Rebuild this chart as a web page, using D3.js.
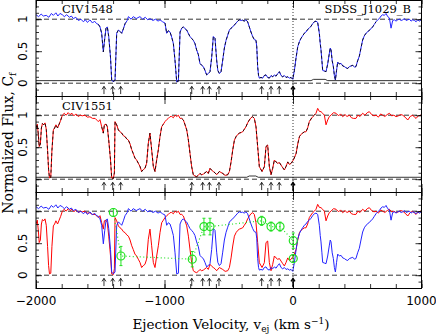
<!DOCTYPE html>
<html>
<head>
<meta charset="utf-8">
<script src="https://cdn.jsdelivr.net/npm/d3@7"></script>
<style>
  body { margin: 0; background: #fff; }
  svg text { fill: #000; }
</style>
</head>
<body>
<div id="chart"></div>
<script>
// CIV 1548 normalized flux (blue), velocity in km/s
var blueV = [-2000,-1980,-1960,-1943,-1920,-1900,-1880,-1865,-1845,-1830,-1813,-1795,-1780,-1761,-1740,-1725,-1709,-1690,-1670,-1650,
  -1632,-1615,-1600,-1580,-1560,-1545,-1528,-1515,-1502,-1489,-1476,-1465,-1455,-1445,-1434,-1420,-1411,-1398,-1385,-1372,
  -1359,-1346,-1333,-1320,-1307,-1290,-1281,-1260,-1243,-1220,-1191,-1170,-1150,-1130,-1113,-1090,-1070,-1050,-1035,-1015,
  -996,-983,-970,-957,-944,-931,-918,-905,-892,-879,-866,-853,-840,-827,-815,-802,-789,-776,-763,-750,
  -737,-724,-711,-698,-685,-672,-659,-646,-633,-620,-607,-594,-585,-573,-560,-547,-534,-521,-508,-495,
  -482,-469,-456,-443,-430,-417,-404,-392,-380,-366,-353,-340,-327,-314,-301,-288,-282,-275,-268,-262,
  -249,-236,-223,-210,-197,-184,-171,-158,-145,-132,-119,-106,-93,-80,-67,-54,-41,-28,-15,-2,
  11,24,37,50,62,75,88,101,114,127,140,153,166,179,192,205,212,218,225,231,
  244,257,270,283,290,296,305,314,322,330,339,348,361,374,387,400,413,426,439,452,
  465,478,490,503,516,529,542,555,568,581,594,607,620,633,646,659,672,685,698,711,
  724,737,750,763,776,789,802,815,828,841,854,867,880,893,906,919,932,945,958,971,984,996];
var blueF = [1.07,1.04,1.08,1.05,1.06,1.03,1.09,1.06,1.10,1.05,1.09,1.07,1.04,1.07,1.03,1.05,1.01,1.03,0.98,1.00,
  0.96,0.99,0.95,0.99,0.94,0.97,0.93,0.92,0.88,0.78,0.49,0.70,0.86,0.88,0.73,0.40,0.05,0.02,0.05,0.78,
  0.83,0.81,0.78,0.85,0.93,0.98,1.04,1.00,1.04,1.01,1.04,1.00,1.03,0.99,1.01,0.98,1.00,0.97,0.99,0.96,
  0.94,0.78,0.82,0.80,0.72,0.62,0.35,0.02,0.03,0.80,0.86,0.88,0.85,0.83,0.78,0.73,0.70,0.67,0.62,0.52,
  0.45,0.31,0.28,0.26,0.20,0.13,0.15,0.18,0.40,0.73,0.70,0.36,0.20,0.15,0.18,0.36,0.55,0.67,0.75,0.83,
  0.86,0.88,0.91,0.94,0.97,0.99,0.98,0.985,0.97,0.99,0.96,0.88,0.80,0.73,0.68,0.67,0.57,0.26,0.12,0.08,
  0.09,0.08,0.12,0.13,0.09,0.08,0.12,0.10,0.13,0.11,0.15,0.18,0.12,0.10,0.12,0.09,0.10,0.08,0.09,0.06,
  0.20,0.40,0.57,0.65,0.70,0.74,0.78,0.80,0.84,0.86,0.89,0.93,0.96,0.97,0.95,0.78,0.62,0.52,0.35,0.20,
  0.19,0.18,0.30,0.47,0.55,0.52,0.35,0.26,0.12,0.05,0.20,0.33,0.30,0.31,0.27,0.26,0.24,0.23,0.26,0.27,
  0.28,0.25,0.26,0.35,0.42,0.55,0.675,0.74,0.78,0.80,0.83,0.85,0.88,0.92,0.96,0.99,1.01,1.05,1.07,1.06,
  1.09,1.04,1.02,0.86,0.98,0.99,0.97,0.99,1.00,0.98,0.99,1.01,0.98,0.99,1.00,0.97,0.99,0.98,0.96,0.99,0.97,0.99];

// CIV 1551 normalized flux (red)
var redV = [-2000,-1990,-1982,-1975,-1966,-1958,-1950,-1940,-1930,-1920,-1910,-1902,-1895,-1885,-1876,-1865,-1855,-1845,-1832,-1820,
  -1808,-1795,-1780,-1765,-1750,-1735,-1720,-1705,-1690,-1672,-1655,-1640,-1620,-1600,-1580,-1560,-1540,-1525,-1515,-1502,
  -1489,-1476,-1468,-1455,-1445,-1434,-1420,-1411,-1398,-1390,-1385,-1372,-1359,-1346,-1333,-1320,-1307,-1294,-1281,-1268,
  -1255,-1243,-1230,-1217,-1204,-1191,-1178,-1165,-1152,-1139,-1126,-1113,-1100,-1087,-1074,-1061,-1048,-1035,-1022,-1009,
  -996,-983,-970,-957,-944,-931,-918,-905,-892,-879,-866,-853,-840,-827,-814,-802,-789,-776,-763,-750,
  -737,-724,-711,-698,-685,-672,-659,-646,-633,-620,-607,-594,-573,-547,-528,-508,-495,-482,-469,-456,
  -443,-430,-417,-404,-392,-379,-366,-353,-340,-327,-314,-301,-288,-275,-262,-241,-223,-210,-197,-184,
  -171,-158,-145,-132,-119,-106,-93,-80,-67,-54,-41,-28,-15,3,24,37,50,62,75,88,
  101,114,127,140,153,166,179,192,205,218,231,244,257,270,283,296,315,335,355,370,
  387,405,420,439,455,470,490,505,522,542,560,578,594,612,630,646,665,682,698,715,
  733,750,768,785,802,820,838,854,872,893,912,932,945,958,975,996];
var redF = [0.80,0.86,0.70,0.51,0.55,0.80,0.87,0.85,0.88,0.78,0.45,0.15,0.02,0.03,0.45,0.77,0.80,0.85,0.80,0.86,
  0.92,1.00,1.03,1.00,1.04,1.01,1.03,0.99,1.02,0.98,1.00,0.99,1.00,0.97,0.975,0.95,0.95,0.92,0.90,0.93,
  0.82,0.72,0.85,0.86,0.82,0.61,0.30,0.02,0.01,0.10,0.90,0.85,0.77,0.74,0.72,0.68,0.665,0.63,0.61,0.55,
  0.46,0.40,0.33,0.30,0.25,0.20,0.12,0.15,0.17,0.25,0.56,0.72,0.46,0.20,0.12,0.30,0.46,0.665,0.82,0.86,
  0.90,0.93,0.95,0.977,0.98,0.96,1.00,0.98,1.00,0.95,0.95,0.925,0.85,0.77,0.61,0.41,0.20,0.07,0.05,0.04,
  0.06,0.09,0.07,0.08,0.10,0.12,0.09,0.17,0.14,0.12,0.10,0.07,0.12,0.09,0.06,0.07,0.12,0.27,0.456,0.61,
  0.665,0.70,0.72,0.73,0.74,0.78,0.82,0.88,0.925,0.96,0.977,0.95,0.82,0.51,0.196,0.12,0.196,0.51,0.534,0.196,
  0.07,0.17,0.30,0.27,0.248,0.26,0.22,0.18,0.144,0.20,0.27,0.23,0.248,0.30,0.40,0.55,0.665,0.70,0.72,0.74,
  0.74,0.80,0.90,0.94,0.977,1.00,1.03,1.107,1.06,1.055,1.03,1.00,0.85,0.925,0.98,1.00,1.04,1.03,0.99,1.02,
  0.977,1.01,0.98,1.00,0.96,0.95,0.95,1.00,0.98,1.03,1.00,1.04,1.055,1.01,0.99,1.00,0.97,1.02,1.00,0.98,
  1.01,1.03,0.99,1.00,0.977,0.99,1.01,1.00,0.97,0.925,0.98,1.00,0.97,0.95,0.99,1.00];

// flux error level (solid black near zero)
var err1548V = [-2000, 140, 160, 250, 270, 1000];
var err1548F = [0.04, 0.04, 0.06, 0.06, 0.04, 0.04];
var err1551V = [-2000, -360, -340, -290, -270, 1000];
var err1551F = [0.03, 0.03, 0.05, 0.05, 0.03, 0.03];

// velocity ranges where the black dashed fit is drawn
var fitBlue = [[-1520, -1285], [-1000, 650]];
var fitRed = [[-2000, -1790], [-1500, -1000], [-870, 185]];

// component positions (arrows)
var arrowV = [-1471, -1403, -1341, -788, -703, -651, -576, -244, -171, -107, 0];

// covering fractions (green)
var cfV = [-1398, -1339, -784, -693, -646, -244, -171, -101, 2, 2];
var cfF = [0.98, 0.30, 0.25, 0.76, 0.76, 0.85, 0.76, 0.76, 0.54, 0.26];
var cfErr = [0.06, 0.15, 0.12, 0.13, 0.13, 0.07, 0.07, 0.07, 0.12, 0.06];

var xTickLabels = [-2000, -1000, 0, 1000];
var yTickLabels = [0, 0.5, 1];
var panelNames = ["CIV1548", "CIV1551", ""];

var W = 436, H = 336;
var plotLeft = 36, plotRight = 421.5, ph = 96;
var svg = d3.select("#chart").append("svg").attr("width", W).attr("height", H);

var x = d3.scaleLinear().domain([-2000, 1000]).range([plotLeft, plotRight]);
var minorX = d3.range(-2000, 1001, 200);
var minorY = d3.range(-2, 14).map(function(d) { return d / 10; });

var blue = blueV.map(function(v, i) { return [v, blueF[i]]; });
var red = redV.map(function(v, i) { return [v, redF[i]]; });

function inRanges(v, ranges) {
  return ranges.some(function(r) { return v >= r[0] && v <= r[1]; });
}

function drawPanel(p) {
  var pTop = p * ph;
  var y = d3.scaleLinear().domain([-0.2, 1.3]).range([pTop + ph, pTop]);
  var g = svg.append("g");

  svg.append("clipPath").attr("id", "clip" + p)
    .append("rect").attr("x", plotLeft).attr("y", pTop).attr("width", plotRight - plotLeft).attr("height", ph);
  var body = g.append("g").attr("clip-path", "url(#clip" + p + ")");

  // reference levels
  [0, 1].forEach(function(lv) {
    body.append("line")
      .attr("x1", plotLeft).attr("x2", plotRight).attr("y1", y(lv)).attr("y2", y(lv))
      .attr("stroke", "#000").attr("stroke-width", 0.8).attr("stroke-dasharray", "5,3");
  });

  var line = d3.line().x(function(d) { return x(d[0]); }).y(function(d) { return y(d[1]); });

  if (p < 2) {
    var ev = p == 0 ? err1548V : err1551V, ef = p == 0 ? err1548F : err1551F;
    body.append("path")
      .attr("d", line(ev.map(function(v, i) { return [v, ef[i]]; })))
      .attr("fill", "none").attr("stroke", "#000").attr("stroke-width", 0.8);
  }

  if (p == 2) {
    body.append("path").attr("d", line(red))
      .attr("fill", "none").attr("stroke", "#ff0000").attr("stroke-width", 1);
  }
  if (p == 0 || p == 2) {
    body.append("path").attr("d", line(blue))
      .attr("fill", "none").attr("stroke", "#2424ff").attr("stroke-width", 1);
  }
  if (p == 1) {
    body.append("path").attr("d", line(red))
      .attr("fill", "none").attr("stroke", "#ff0000").attr("stroke-width", 1);
  }

  // black dashed fit over the troughs
  if (p < 2) {
    var spec = p == 0 ? blue : red, rng = p == 0 ? fitBlue : fitRed;
    var fit = d3.line().defined(function(d) { return inRanges(d[0], rng); })
      .x(function(d) { return x(d[0]); }).y(function(d) { return y(d[1]); });
    body.append("path").attr("d", fit(spec))
      .attr("fill", "none").attr("stroke", "#000").attr("stroke-width", 0.8)
      .attr("stroke-dasharray", "3,2.5");
  }

  // covering fraction points
  if (p == 2) {
    var cf = cfV.map(function(v, i) { return [v, cfF[i], cfErr[i]]; });
    body.append("path").attr("d", line(cf))
      .attr("fill", "none").attr("stroke", "#22e022").attr("stroke-width", 1.2)
      .attr("stroke-dasharray", "1,2.5");
    var pts = body.selectAll(".cf").data(cf).enter().append("g");
    pts.append("line")
      .attr("x1", function(d) { return x(d[0]); }).attr("x2", function(d) { return x(d[0]); })
      .attr("y1", function(d) { return y(d[1] - d[2]); }).attr("y2", function(d) { return y(d[1] + d[2]); })
      .attr("stroke", "#22e022").attr("stroke-width", 1);
    [-1, 1].forEach(function(s) {
      pts.append("line")
        .attr("x1", function(d) { return x(d[0]) - 1.5; }).attr("x2", function(d) { return x(d[0]) + 1.5; })
        .attr("y1", function(d) { return y(d[1] + s * d[2]); }).attr("y2", function(d) { return y(d[1] + s * d[2]); })
        .attr("stroke", "#22e022").attr("stroke-width", 1);
    });
    pts.append("circle")
      .attr("cx", function(d) { return x(d[0]); }).attr("cy", function(d) { return y(d[1]); })
      .attr("r", 4).attr("fill", "none").attr("stroke", "#22e022").attr("stroke-width", 1.2);
  }

  // component arrows
  arrowV.forEach(function(v) {
    var bold = v == 0;
    var ax = x(v), y0 = y(bold ? -0.19 : -0.17), y1 = y(-0.05);
    g.append("line").attr("x1", ax).attr("x2", ax).attr("y1", y0).attr("y2", y1)
      .attr("stroke", "#000").attr("stroke-width", bold ? 1.4 : 0.8);
    g.append("path")
      .attr("d", "M" + (ax - 2) + "," + (y1 + 3) + "L" + ax + "," + y1 + "L" + (ax + 2) + "," + (y1 + 3))
      .attr("fill", "none").attr("stroke", "#000").attr("stroke-width", bold ? 1.4 : 0.8);
  });

  // axes with inward ticks
  var axisStyle = function(sel) {
    sel.select(".domain").remove();
    sel.selectAll("line").attr("stroke", "#000").attr("stroke-width", 0.8);
  };
  g.append("g").attr("transform", "translate(0," + (pTop + ph) + ")")
    .call(d3.axisBottom(x).tickValues(minorX).tickSize(-4).tickFormat("")).call(axisStyle);
  g.append("g").attr("transform", "translate(0," + (pTop + ph) + ")")
    .call(d3.axisBottom(x).tickValues(xTickLabels).tickSize(-8).tickFormat("")).call(axisStyle);
  g.append("g").attr("transform", "translate(0," + pTop + ")")
    .call(d3.axisTop(x).tickValues(minorX).tickSize(-4).tickFormat("")).call(axisStyle);
  g.append("g").attr("transform", "translate(0," + pTop + ")")
    .call(d3.axisTop(x).tickValues(xTickLabels).tickSize(-8).tickFormat("")).call(axisStyle);
  g.append("g").attr("transform", "translate(" + plotLeft + ",0)")
    .call(d3.axisLeft(y).tickValues(minorY).tickSize(-3).tickFormat("")).call(axisStyle);
  g.append("g").attr("transform", "translate(" + plotLeft + ",0)")
    .call(d3.axisLeft(y).tickValues(yTickLabels).tickSize(-6).tickFormat("")).call(axisStyle);
  g.append("g").attr("transform", "translate(" + plotRight + ",0)")
    .call(d3.axisRight(y).tickValues(minorY).tickSize(-3).tickFormat("")).call(axisStyle);
  g.append("g").attr("transform", "translate(" + plotRight + ",0)")
    .call(d3.axisRight(y).tickValues(yTickLabels).tickSize(-6).tickFormat("")).call(axisStyle);

  // rotated y tick labels
  yTickLabels.forEach(function(t) {
    g.append("text")
      .attr("transform", "translate(27," + y(t) + ") rotate(-90)")
      .attr("text-anchor", "middle")
      .style("font-family", "DejaVu Sans").style("font-size", "12px")
      .text(t);
  });

  g.append("rect").attr("x", plotLeft).attr("y", pTop + 0.5).attr("width", plotRight - plotLeft).attr("height", ph)
    .attr("fill", "none").attr("stroke", "#000").attr("stroke-width", 1);

  if (panelNames[p]) {
    g.append("text").attr("x", 62).attr("y", pTop + (p == 0 ? 12.5 : 13.5))
      .style("font-family", "DejaVu Serif").style("font-size", "11.5px")
      .text(panelNames[p]);
  }
}

for (var p = 0; p < 3; p++) drawPanel(p);

// zero velocity marker
svg.append("line").attr("x1", x(0)).attr("x2", x(0)).attr("y1", 0).attr("y2", 3 * ph)
  .attr("stroke", "#000").attr("stroke-width", 0.8).attr("stroke-dasharray", "1,2");

svg.append("text").attr("x", 411).attr("y", 12.5).attr("text-anchor", "end")
  .style("font-family", "DejaVu Serif").style("font-size", "11.5px")
  .text("SDSS_J1029_B");

// x tick labels
xTickLabels.forEach(function(t) {
  svg.append("text").attr("x", x(t)).attr("y", 305).attr("text-anchor", "middle")
    .style("font-family", "DejaVu Sans").style("font-size", "12px")
    .text(t < 0 ? "\u2212" + Math.abs(t) : t);
});

// axis titles
var xt = svg.append("text").attr("x", 231).attr("y", 329).attr("text-anchor", "middle")
  .style("font-family", "DejaVu Serif").style("font-size", "13.5px");
xt.append("tspan").text("Ejection Velocity, v");
xt.append("tspan").attr("dy", 3).style("font-size", "9px").text("ej");
xt.append("tspan").attr("dy", -3).text(" (km s");
xt.append("tspan").attr("dy", -5).style("font-size", "9px").text("\u22121");
xt.append("tspan").attr("dy", 5).text(")");

var yt = svg.append("text").attr("transform", "translate(13,143) rotate(-90)").attr("text-anchor", "middle")
  .style("font-family", "DejaVu Serif").style("font-size", "14px");
yt.append("tspan").text("Normalized Flux, C");
yt.append("tspan").attr("dy", 3).style("font-size", "9.5px").text("f");
</script>
</body>
</html>
